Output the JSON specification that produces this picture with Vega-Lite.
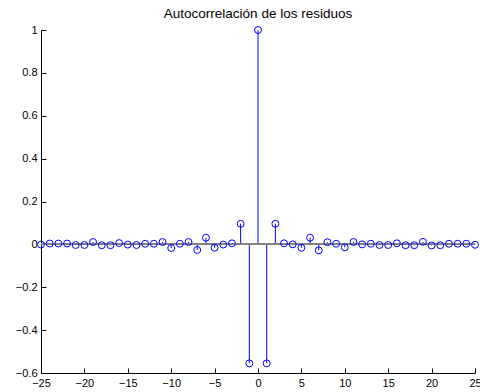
{
  "$schema": "https://vega.github.io/schema/vega-lite/v6.json",
  "autosize": "none",
  "width": 434,
  "height": 343,
  "padding": {"left": 41, "top": 30, "right": 5, "bottom": 19},
  "background": "white",
  "title": {"text": "Autocorrelación de los residuos", "font": "Liberation Sans", "fontSize": 13.5, "fontWeight": "normal", "color": "black", "anchor": "middle", "frame": "group", "baseline": "bottom", "offset": -10},
  "config": {
    "view": {"stroke": null},
    "axis": {"grid": false, "domainColor": "black", "tickColor": "black", "labelColor": "black", "labelFont": "Liberation Sans", "labelFontSize": 11, "tickSize": -5, "domainWidth": 1, "tickWidth": 1, "title": null}
  },
  "data": {"values": [
    {"lag": -25, "r": -0.001}, {"lag": -24, "r": 0.004}, {"lag": -23, "r": 0.004}, {"lag": -22, "r": 0.004},
    {"lag": -21, "r": -0.003}, {"lag": -20, "r": -0.003}, {"lag": -19, "r": 0.011}, {"lag": -18, "r": -0.004},
    {"lag": -17, "r": -0.004}, {"lag": -16, "r": 0.006}, {"lag": -15, "r": -0.001}, {"lag": -14, "r": -0.003},
    {"lag": -13, "r": 0.003}, {"lag": -12, "r": 0.003}, {"lag": -11, "r": 0.011}, {"lag": -10, "r": -0.017},
    {"lag": -9, "r": 0.003}, {"lag": -8, "r": 0.011}, {"lag": -7, "r": -0.026}, {"lag": -6, "r": 0.031},
    {"lag": -5, "r": -0.016}, {"lag": -4, "r": -0.001}, {"lag": -3, "r": 0.005}, {"lag": -2, "r": 0.096},
    {"lag": -1, "r": -0.555}, {"lag": 0, "r": 1.0}, {"lag": 1, "r": -0.555}, {"lag": 2, "r": 0.096},
    {"lag": 3, "r": 0.005}, {"lag": 4, "r": 0.0}, {"lag": 5, "r": -0.016}, {"lag": 6, "r": 0.031},
    {"lag": 7, "r": -0.028}, {"lag": 8, "r": 0.01}, {"lag": 9, "r": 0.003}, {"lag": 10, "r": -0.014},
    {"lag": 11, "r": 0.011}, {"lag": 12, "r": 0.0}, {"lag": 13, "r": 0.003}, {"lag": 14, "r": -0.003},
    {"lag": 15, "r": -0.003}, {"lag": 16, "r": 0.005}, {"lag": 17, "r": -0.004}, {"lag": 18, "r": -0.004},
    {"lag": 19, "r": 0.012}, {"lag": 20, "r": -0.005}, {"lag": 21, "r": -0.004}, {"lag": 22, "r": 0.003},
    {"lag": 23, "r": 0.003}, {"lag": 24, "r": 0.003}, {"lag": 25, "r": -0.002}
  ]},
  "encoding": {
    "x": {"field": "lag", "type": "quantitative", "scale": {"domain": [-25, 25], "nice": false, "zero": false},
          "axis": {"values": [-25, -20, -15, -10, -5, 0, 5, 10, 15, 20, 25], "labelPadding": 9, "labelFlush": false, "labelOverlap": false}},
    "y": {"field": "r", "type": "quantitative", "scale": {"domain": [-0.6, 1], "nice": false, "zero": false},
          "axis": {"values": [-0.6, -0.4, -0.2, 0, 0.2, 0.4, 0.6, 0.8, 1], "format": ".1~f", "labelPadding": 9, "labelFlush": false, "labelOverlap": false}}
  },
  "layer": [
    {"mark": {"type": "rule", "color": "blue", "strokeWidth": 1}, "encoding": {"y2": {"datum": 0}}},
    {"mark": {"type": "rule", "color": "#808080", "strokeWidth": 1}, "encoding": {"x": null, "y": {"datum": 0}}},
    {"mark": {"type": "point", "shape": "circle", "filled": false, "color": "blue", "size": 48, "strokeWidth": 1, "opacity": 1}}
  ]
}
